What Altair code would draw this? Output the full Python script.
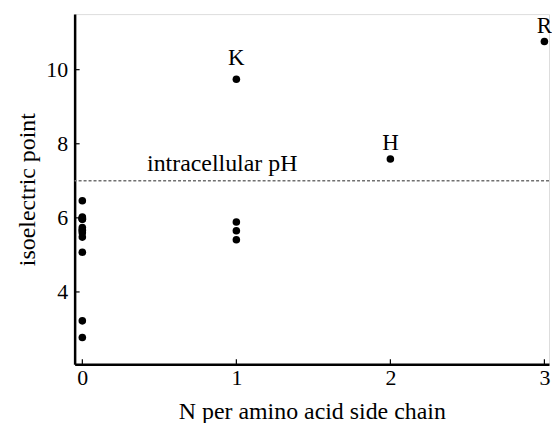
import altair as alt
import pandas as pd

# amino acids: N atoms per side chain vs isoelectric point
amino = ["G", "A", "V", "L", "I", "M", "F", "P", "S", "T", "C", "Y", "D", "E",
         "N", "Q", "W", "K", "H", "R"]
n_side = [0, 0, 0, 0, 0, 0, 0, 0, 0, 0, 0, 0, 0, 0,
          1, 1, 1, 1, 2, 3]
pI = [5.97, 6.00, 5.96, 5.98, 6.02, 5.74, 5.48, 6.46, 5.68, 5.60, 5.07, 5.66, 2.77, 3.22,
      5.41, 5.65, 5.89, 9.74, 7.59, 10.76]

labeled_high = ["K"]
labeled_low = ["H", "R"]
ph_line = [7.0]
ph_text = ["intracellular pH"]
ph_text_x = [0.42]
ph_text_y = [7.45]

x_ticks = [0, 1, 2, 3]
y_ticks = [4, 6, 8, 10]

df = pd.DataFrame({"aa": amino, "n": n_side, "pI": pI})
lab_hi = df[df["aa"].isin(labeled_high)]
lab_lo = df[df["aa"].isin(labeled_low)]

FONT = "Liberation Serif"
W, H = 477, 352

xs = alt.Scale(domain=[-0.05, 3.03], nice=False, zero=False)
ys = alt.Scale(domain=[2.05, 11.5], nice=False, zero=False)

common = dict(tickSize=0, grid=False, domainWidth=2.5, domainColor="black",
              labelColor="black", titleColor="black", labelFont=FONT, titleFont=FONT,
              labelFontSize=22, titleFontSize=24, titleFontWeight="normal", format="d")
xax = alt.Axis(values=x_ticks, title="N per amino acid side chain",
               labelPadding=3, titlePadding=12, **common)
yax = alt.Axis(values=y_ticks, title="isoelectric point",
               labelPadding=7, titlePadding=6, **common)

pts = alt.Chart(df).mark_circle(size=58, color="black", opacity=1).encode(
    x=alt.X("n:Q", scale=xs, axis=xax),
    y=alt.Y("pI:Q", scale=ys, axis=yax),
)

labels_hi = alt.Chart(lab_hi).mark_text(font=FONT, fontSize=23, color="black",
                                        baseline="middle", dy=-21).encode(
    x=alt.X("n:Q", scale=xs), y=alt.Y("pI:Q", scale=ys), text="aa:N")
labels_lo = alt.Chart(lab_lo).mark_text(font=FONT, fontSize=23, color="black",
                                        baseline="middle", dy=-16).encode(
    x=alt.X("n:Q", scale=xs), y=alt.Y("pI:Q", scale=ys), text="aa:N")

line = alt.Chart(pd.DataFrame({"y": ph_line})).mark_rule(
    color="#707070", strokeDash=[3, 2], strokeWidth=1.6).encode(
    y=alt.Y("y:Q", scale=ys))

ptxt = alt.Chart(pd.DataFrame({"x": ph_text_x, "y": ph_text_y, "t": ph_text})).mark_text(
    font=FONT, fontSize=24, color="black", align="left", baseline="middle").encode(
    x=alt.X("x:Q", scale=xs), y=alt.Y("y:Q", scale=ys), text="t:N")

xt = alt.Chart(pd.DataFrame({"v": x_ticks})).mark_rule(color="black", strokeWidth=1.2).encode(
    x=alt.X("v:Q", scale=xs), y=alt.value(H), y2=alt.value(H - 5))
yt = alt.Chart(pd.DataFrame({"v": y_ticks})).mark_rule(color="black", strokeWidth=1.2).encode(
    y=alt.Y("v:Q", scale=ys), x=alt.value(0), x2=alt.value(5))

chart = alt.layer(line, ptxt, xt, yt, pts, labels_hi, labels_lo).properties(
    width=W, height=H,
    autosize=alt.AutoSizeParams(type="none"),
    padding={"left": 67, "top": 5, "right": 3, "bottom": 58},
).configure_view(stroke=None).configure(background="white")

chart.save("out.html", embed_options={"renderer": "svg", "actions": False})
